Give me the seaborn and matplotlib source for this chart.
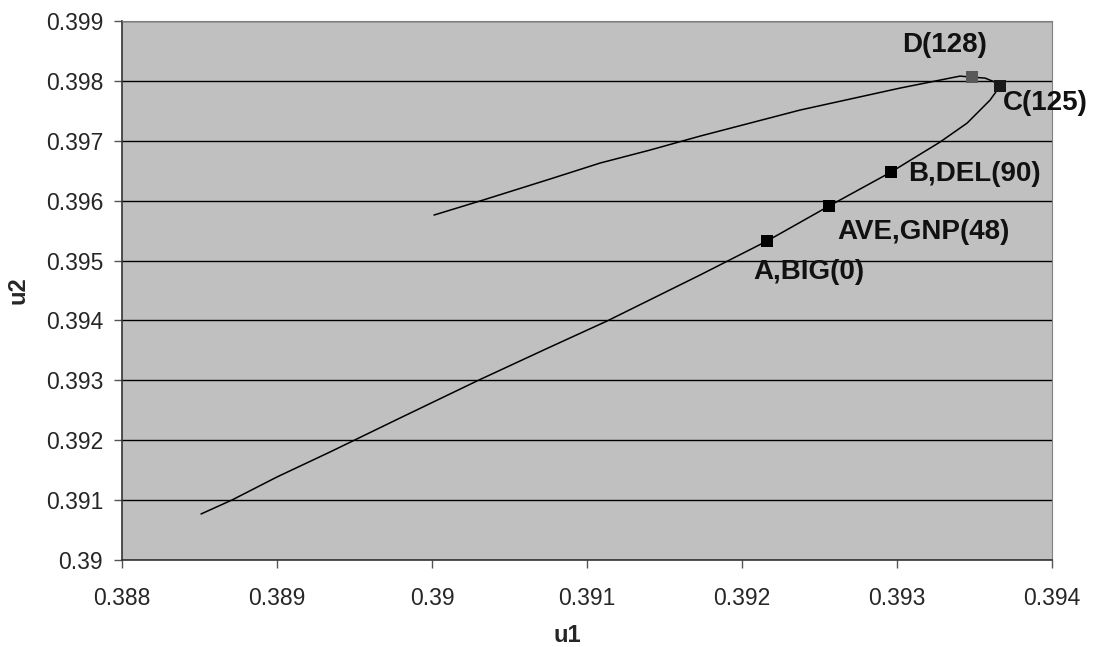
import numpy as np
import pandas as pd
import matplotlib
matplotlib.use("Agg")
import matplotlib.pyplot as plt
import seaborn as sns

# path of the curve, in order (lower branch up to C, then back along the upper branch)
u1_path = [0.388510, 0.388710, 0.389000, 0.389342, 0.389794, 0.390303, 0.390748,
           0.391129, 0.391729, 0.392161, 0.392561, 0.392961, 0.393277, 0.393452,
           0.393600, 0.393665, 0.393632, 0.393568, 0.393484, 0.393406, 0.393342,
           0.393019, 0.392374, 0.391729, 0.391406, 0.391084, 0.390761, 0.390329,
           0.390013]
u2_path = [0.390768, 0.391002, 0.391386, 0.391803, 0.392371, 0.393005, 0.393539,
           0.393990, 0.394758, 0.395326, 0.395910, 0.396477, 0.396978, 0.397295,
           0.397679, 0.397913, 0.397980, 0.398047, 0.398063, 0.398080, 0.398047,
           0.397880, 0.397513, 0.397078, 0.396845, 0.396628, 0.396361, 0.396010,
           0.395760]

# marked points
labels = ["A,BIG(0)", "AVE,GNP(48)", "B,DEL(90)", "C(125)", "D(128)"]
u1_pts = [0.392161, 0.392561, 0.392961, 0.393665, 0.393484]
u2_pts = [0.395326, 0.395910, 0.396477, 0.397913, 0.398063]
pt_colors = ["#000000", "#000000", "#000000", "#1a1a1a", "#595959"]

sns.set_style("ticks", {"axes.facecolor": "#C0C0C0"})
plt.rcParams['font.family'] = ['Liberation Sans', 'DejaVu Sans']

fig = plt.figure(figsize=(10.93, 6.47), dpi=100)
ax = fig.add_axes([0.1116, 0.1345, 0.8509, 0.833])

path_df = pd.DataFrame({"u1": u1_path, "u2": u2_path})
sns.lineplot(data=path_df, x="u1", y="u2", sort=False, estimator=None,
             color="black", lw=1.1, ax=ax, zorder=3)

pts_df = pd.DataFrame({"u1": u1_pts, "u2": u2_pts, "label": labels})
sns.scatterplot(data=pts_df, x="u1", y="u2", hue="label", palette=pt_colors,
                marker="s", s=80, edgecolor="none", legend=False, ax=ax, zorder=4)

# label offsets in pixels from each marker
offsets = {"A,BIG(0)": (-14, -31, "left"), "AVE,GNP(48)": (8, -26, "left"),
           "B,DEL(90)": (17, -2, "left"), "C(125)": (3, -17, "left"),
           "D(128)": (-27, 32, "center")}
for lab, x, y in zip(labels, u1_pts, u2_pts):
    dx, dy, ha = offsets[lab]
    ax.annotate(lab, (x, y), xytext=(dx, dy), textcoords="offset pixels",
                ha=ha, va="center", fontsize=20, fontweight="bold", color="#111111")

ax.set_xlim(0.388, 0.394)
ax.set_ylim(0.39, 0.399)
ax.set_xticks(np.arange(0.388, 0.39401, 0.001))
ax.set_yticks(np.arange(0.390, 0.39901, 0.001))
ax.set_xticklabels(["0.388", "0.389", "0.39", "0.391", "0.392", "0.393", "0.394"])
ax.set_yticklabels(["0.39", "0.391", "0.392", "0.393", "0.394", "0.395", "0.396",
                    "0.397", "0.398", "0.399"])
ax.tick_params(labelsize=16.5, length=6, width=1, color="#555555", direction="out")
ax.tick_params(axis="x", pad=13.5)
ax.tick_params(axis="y", pad=7.5)
ax.yaxis.grid(True, color="black", lw=1)
ax.xaxis.grid(False)
ax.set_axisbelow(True)

for side in ["top", "right"]:
    ax.spines[side].set_visible(True)
    ax.spines[side].set_color("#808080")
for side in ["left", "bottom"]:
    ax.spines[side].set_color("#333333")
    ax.spines[side].set_linewidth(1.2)

ax.set_xlabel("u1", fontsize=17, fontweight="bold", va="center")
ax.set_ylabel("u2", fontsize=17, fontweight="bold", va="center")
ax.xaxis.set_label_coords(0.4785, -0.141)
ax.yaxis.set_label_coords(-0.112, 0.501)

fig.savefig("out.png", dpi=100, facecolor="white")
